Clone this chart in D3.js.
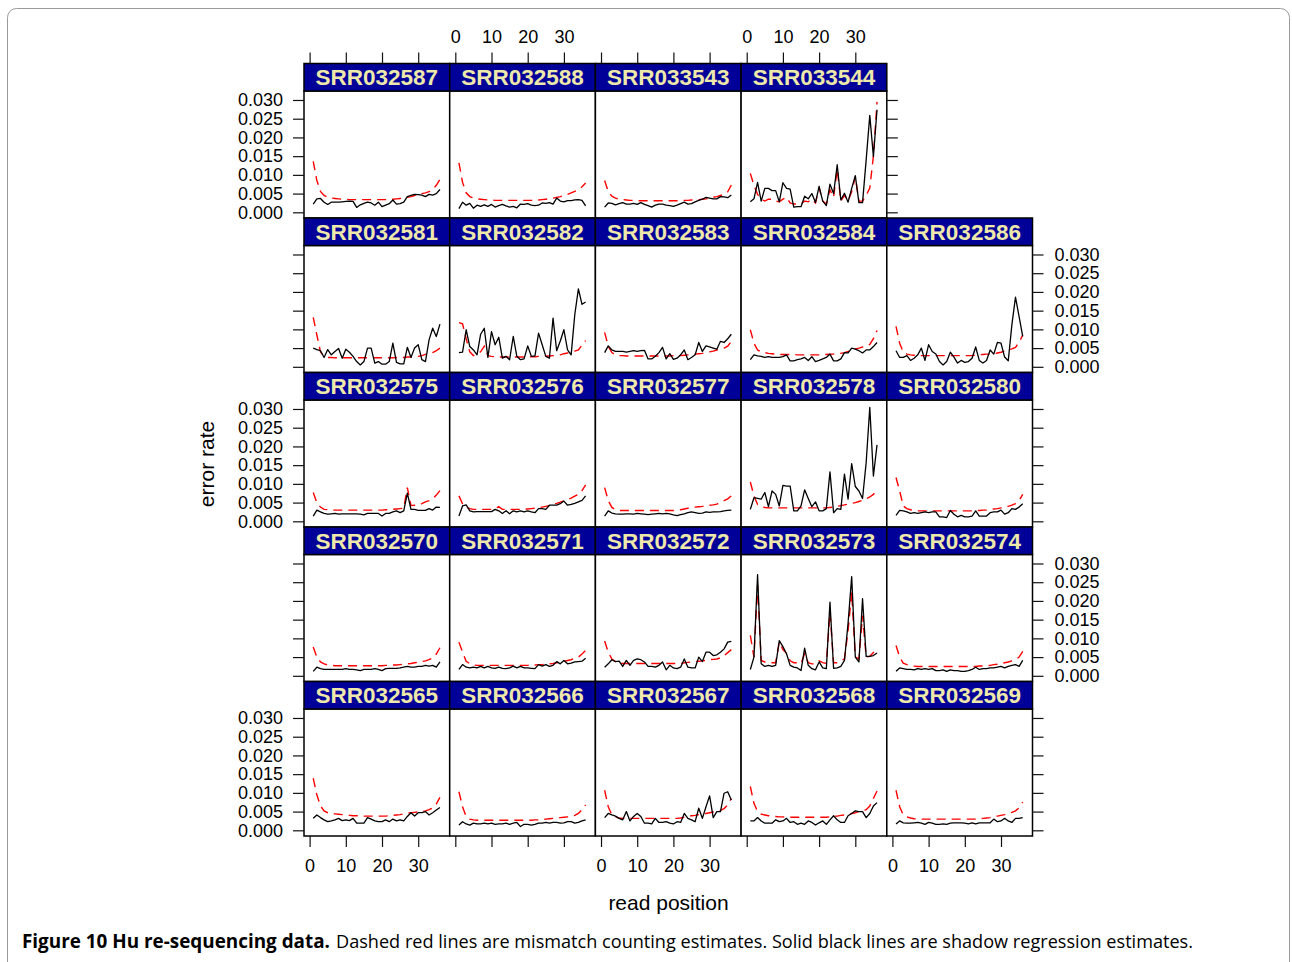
<!DOCTYPE html>
<html><head><meta charset="utf-8">
<script src="https://cdn.jsdelivr.net/npm/d3@7"></script>
<style>
body{margin:0;background:#fff;}
svg text{font-family:"Liberation Sans",Arial,Helvetica,sans-serif;}
</style></head>
<body><svg id="chart" width="1292" height="962"></svg>
<script>
// ---------------- data ----------------
const readPositions = [1,2,3,4,5,6,7,8,9,10,11,12,13,14,15,16,17,18,19,20,21,22,23,24,25,26,27,28,29,30,31,32,33,34,35,36];
const xTicks = [0,10,20,30];
const yTicks = [0,0.005,0.010,0.015,0.020,0.025,0.030];

// panel layout (top row first)
const layoutRows = [
  ["SRR032587","SRR032588","SRR033543","SRR033544"],
  ["SRR032581","SRR032582","SRR032583","SRR032584","SRR032586"],
  ["SRR032575","SRR032576","SRR032577","SRR032578","SRR032580"],
  ["SRR032570","SRR032571","SRR032572","SRR032573","SRR032574"],
  ["SRR032565","SRR032566","SRR032567","SRR032568","SRR032569"]
];

// shadow regression estimates (solid black) and mismatch counting estimates (dashed red)
const S587=[0.0022,0.0036,0.0037,0.0027,0.0021,0.0027,0.0027,0.0027,0.0028,0.0029,0.0030,0.0029,0.0013,0.0020,0.0024,0.0027,0.0025,0.0019,0.0027,0.0015,0.0019,0.0023,0.0033,0.0022,0.0023,0.0027,0.0042,0.0045,0.0048,0.0047,0.0046,0.0042,0.0048,0.0046,0.0050,0.0061];
const M587=[0.0136,0.0085,0.0056,0.0045,0.0040,0.0038,0.0037,0.0036,0.0035,0.0035,0.0034,0.0034,0.0034,0.0034,0.0034,0.0034,0.0034,0.0034,0.0034,0.0034,0.0034,0.0035,0.0035,0.0036,0.0037,0.0038,0.0040,0.0042,0.0045,0.0048,0.0050,0.0052,0.0055,0.0062,0.0072,0.0088];
const S588=[0.0010,0.0027,0.0019,0.0024,0.0011,0.0019,0.0016,0.0020,0.0016,0.0021,0.0014,0.0018,0.0021,0.0017,0.0014,0.0016,0.0012,0.0022,0.0021,0.0023,0.0019,0.0018,0.0019,0.0025,0.0024,0.0026,0.0022,0.0038,0.0030,0.0028,0.0031,0.0031,0.0033,0.0034,0.0032,0.0017];
const M588=[0.0132,0.0080,0.0052,0.0042,0.0038,0.0036,0.0035,0.0034,0.0033,0.0033,0.0032,0.0032,0.0032,0.0032,0.0032,0.0032,0.0032,0.0032,0.0032,0.0032,0.0032,0.0033,0.0033,0.0034,0.0035,0.0036,0.0038,0.0040,0.0042,0.0045,0.0048,0.0052,0.0056,0.0060,0.0068,0.0078];
const S3543=[0.0014,0.0025,0.0024,0.0020,0.0023,0.0026,0.0022,0.0022,0.0024,0.0021,0.0026,0.0021,0.0018,0.0014,0.0019,0.0022,0.0022,0.0019,0.0018,0.0016,0.0019,0.0023,0.0027,0.0022,0.0023,0.0028,0.0032,0.0035,0.0040,0.0038,0.0036,0.0036,0.0042,0.0041,0.0039,0.0046];
const M3543=[0.0085,0.0055,0.0043,0.0038,0.0035,0.0034,0.0033,0.0032,0.0032,0.0031,0.0031,0.0031,0.0031,0.0031,0.0031,0.0031,0.0031,0.0031,0.0031,0.0031,0.0031,0.0031,0.0032,0.0032,0.0033,0.0034,0.0034,0.0035,0.0036,0.0038,0.0040,0.0042,0.0045,0.0048,0.0055,0.0073];
const S3544=[0.0028,0.0036,0.0080,0.0030,0.0064,0.0064,0.0058,0.0058,0.0028,0.0079,0.0064,0.0062,0.0014,0.0015,0.0015,0.0043,0.0036,0.0050,0.0026,0.0069,0.0030,0.0018,0.0075,0.0050,0.0127,0.0033,0.0051,0.0027,0.0064,0.0098,0.0026,0.0026,0.0140,0.0259,0.0149,0.0274];
const M3544=[0.0104,0.0072,0.0048,0.0035,0.0030,0.0035,0.0035,0.0030,0.0028,0.0035,0.0040,0.0025,0.0022,0.0022,0.0022,0.0030,0.0028,0.0035,0.0025,0.0065,0.0030,0.0022,0.0060,0.0040,0.0115,0.0030,0.0045,0.0030,0.0055,0.0095,0.0030,0.0030,0.0045,0.0065,0.0150,0.0295];

const S581=[0.0050,0.0046,0.0043,0.0025,0.0046,0.0032,0.0041,0.0049,0.0023,0.0047,0.0039,0.0028,0.0014,0.0005,0.0014,0.0050,0.0050,0.0010,0.0014,0.0007,0.0007,0.0014,0.0063,0.0012,0.0008,0.0008,0.0052,0.0025,0.0050,0.0059,0.0019,0.0014,0.0072,0.0103,0.0081,0.0114];
const M581=[0.0132,0.0085,0.0040,0.0028,0.0025,0.0025,0.0024,0.0024,0.0024,0.0024,0.0024,0.0024,0.0024,0.0024,0.0024,0.0024,0.0024,0.0024,0.0024,0.0024,0.0024,0.0024,0.0024,0.0025,0.0025,0.0025,0.0026,0.0026,0.0027,0.0028,0.0030,0.0033,0.0036,0.0038,0.0043,0.0050];
const S582=[0.0038,0.0039,0.0099,0.0054,0.0045,0.0032,0.0087,0.0103,0.0025,0.0094,0.0059,0.0079,0.0023,0.0028,0.0019,0.0081,0.0028,0.0019,0.0021,0.0056,0.0028,0.0029,0.0090,0.0059,0.0028,0.0023,0.0130,0.0043,0.0069,0.0099,0.0045,0.0032,0.0139,0.0208,0.0167,0.0173];
const M582=[0.0118,0.0115,0.0075,0.0040,0.0030,0.0035,0.0040,0.0055,0.0030,0.0028,0.0027,0.0026,0.0026,0.0026,0.0026,0.0026,0.0026,0.0026,0.0026,0.0026,0.0027,0.0027,0.0028,0.0028,0.0029,0.0029,0.0030,0.0030,0.0032,0.0035,0.0037,0.0040,0.0042,0.0045,0.0058,0.0070];
const S583=[0.0038,0.0056,0.0045,0.0041,0.0041,0.0041,0.0039,0.0041,0.0043,0.0041,0.0043,0.0044,0.0021,0.0021,0.0028,0.0038,0.0052,0.0021,0.0035,0.0020,0.0023,0.0032,0.0045,0.0019,0.0025,0.0032,0.0065,0.0041,0.0056,0.0053,0.0050,0.0047,0.0068,0.0065,0.0075,0.0087];
const M583=[0.0092,0.0055,0.0038,0.0032,0.0030,0.0030,0.0029,0.0029,0.0029,0.0029,0.0029,0.0029,0.0029,0.0029,0.0029,0.0029,0.0029,0.0029,0.0029,0.0030,0.0030,0.0030,0.0031,0.0032,0.0033,0.0034,0.0035,0.0036,0.0038,0.0040,0.0042,0.0045,0.0048,0.0050,0.0055,0.0068];
const S584=[0.0019,0.0032,0.0029,0.0028,0.0025,0.0027,0.0025,0.0025,0.0025,0.0027,0.0032,0.0016,0.0016,0.0019,0.0021,0.0025,0.0017,0.0027,0.0014,0.0017,0.0021,0.0025,0.0034,0.0016,0.0016,0.0021,0.0038,0.0037,0.0050,0.0047,0.0043,0.0037,0.0045,0.0045,0.0054,0.0065];
const M584=[0.0099,0.0063,0.0045,0.0040,0.0038,0.0036,0.0035,0.0034,0.0033,0.0033,0.0033,0.0033,0.0033,0.0032,0.0032,0.0032,0.0032,0.0032,0.0032,0.0032,0.0033,0.0033,0.0034,0.0034,0.0035,0.0036,0.0038,0.0041,0.0045,0.0048,0.0050,0.0053,0.0055,0.0060,0.0075,0.0097];
const S586=[0.0043,0.0025,0.0025,0.0030,0.0017,0.0023,0.0032,0.0050,0.0017,0.0059,0.0041,0.0034,0.0014,0.0005,0.0014,0.0039,0.0026,0.0010,0.0017,0.0012,0.0014,0.0023,0.0053,0.0017,0.0010,0.0017,0.0045,0.0034,0.0065,0.0063,0.0026,0.0016,0.0112,0.0186,0.0134,0.0081];
const M586=[0.0108,0.0063,0.0039,0.0034,0.0032,0.0031,0.0030,0.0030,0.0030,0.0030,0.0030,0.0030,0.0030,0.0030,0.0030,0.0030,0.0030,0.0030,0.0030,0.0030,0.0030,0.0030,0.0031,0.0032,0.0033,0.0034,0.0034,0.0035,0.0037,0.0039,0.0042,0.0045,0.0048,0.0052,0.0065,0.0085];

const S575=[0.0014,0.0030,0.0025,0.0021,0.0019,0.0020,0.0021,0.0019,0.0020,0.0020,0.0020,0.0020,0.0020,0.0019,0.0017,0.0021,0.0021,0.0021,0.0021,0.0014,0.0021,0.0021,0.0025,0.0028,0.0023,0.0028,0.0075,0.0032,0.0032,0.0029,0.0029,0.0029,0.0034,0.0030,0.0038,0.0037];
const M575=[0.0077,0.0050,0.0038,0.0032,0.0031,0.0030,0.0030,0.0030,0.0030,0.0030,0.0030,0.0030,0.0030,0.0030,0.0030,0.0030,0.0030,0.0030,0.0030,0.0030,0.0031,0.0031,0.0032,0.0033,0.0034,0.0035,0.0090,0.0042,0.0043,0.0044,0.0047,0.0052,0.0055,0.0060,0.0070,0.0082];
const S576=[0.0014,0.0041,0.0044,0.0028,0.0025,0.0026,0.0026,0.0026,0.0026,0.0026,0.0032,0.0028,0.0021,0.0028,0.0020,0.0028,0.0025,0.0028,0.0025,0.0028,0.0025,0.0023,0.0034,0.0034,0.0032,0.0043,0.0043,0.0043,0.0047,0.0054,0.0043,0.0045,0.0048,0.0052,0.0056,0.0068];
const M576=[0.0068,0.0047,0.0038,0.0034,0.0032,0.0032,0.0032,0.0032,0.0032,0.0032,0.0033,0.0039,0.0032,0.0032,0.0032,0.0032,0.0032,0.0032,0.0033,0.0033,0.0034,0.0035,0.0036,0.0038,0.0040,0.0042,0.0045,0.0048,0.0051,0.0055,0.0058,0.0062,0.0067,0.0072,0.0082,0.0097];
const S577=[0.0014,0.0028,0.0022,0.0020,0.0019,0.0019,0.0020,0.0020,0.0019,0.0021,0.0020,0.0019,0.0018,0.0019,0.0020,0.0021,0.0020,0.0021,0.0020,0.0017,0.0015,0.0018,0.0020,0.0023,0.0025,0.0023,0.0021,0.0022,0.0025,0.0024,0.0025,0.0025,0.0026,0.0028,0.0029,0.0030];
const M577=[0.0090,0.0055,0.0037,0.0031,0.0029,0.0029,0.0029,0.0029,0.0029,0.0029,0.0029,0.0029,0.0029,0.0029,0.0029,0.0029,0.0029,0.0029,0.0029,0.0029,0.0030,0.0031,0.0033,0.0035,0.0037,0.0038,0.0039,0.0040,0.0042,0.0043,0.0044,0.0046,0.0050,0.0055,0.0060,0.0068];
const S578=[0.0032,0.0063,0.0061,0.0059,0.0077,0.0039,0.0081,0.0072,0.0041,0.0096,0.0094,0.0094,0.0028,0.0028,0.0041,0.0084,0.0061,0.0039,0.0052,0.0028,0.0028,0.0034,0.0132,0.0023,0.0034,0.0032,0.0126,0.0059,0.0154,0.0093,0.0081,0.0061,0.0157,0.0304,0.0121,0.0204];
const M578=[0.0105,0.0068,0.0045,0.0040,0.0037,0.0036,0.0036,0.0036,0.0036,0.0036,0.0036,0.0036,0.0036,0.0036,0.0036,0.0036,0.0036,0.0036,0.0036,0.0036,0.0036,0.0036,0.0037,0.0038,0.0040,0.0042,0.0044,0.0046,0.0048,0.0050,0.0053,0.0056,0.0060,0.0065,0.0072,0.0082];
const S580=[0.0016,0.0029,0.0028,0.0025,0.0021,0.0023,0.0021,0.0023,0.0025,0.0023,0.0025,0.0025,0.0012,0.0012,0.0010,0.0029,0.0019,0.0012,0.0016,0.0012,0.0012,0.0014,0.0028,0.0014,0.0014,0.0014,0.0023,0.0025,0.0025,0.0030,0.0019,0.0023,0.0034,0.0032,0.0038,0.0047];
const M580=[0.0117,0.0081,0.0041,0.0034,0.0031,0.0029,0.0028,0.0028,0.0028,0.0028,0.0028,0.0028,0.0028,0.0028,0.0028,0.0028,0.0028,0.0028,0.0028,0.0028,0.0028,0.0028,0.0029,0.0029,0.0030,0.0030,0.0031,0.0033,0.0034,0.0036,0.0038,0.0040,0.0043,0.0047,0.0055,0.0072];

const S570=[0.0012,0.0023,0.0019,0.0017,0.0017,0.0017,0.0017,0.0017,0.0017,0.0019,0.0017,0.0017,0.0016,0.0014,0.0017,0.0017,0.0017,0.0019,0.0017,0.0014,0.0019,0.0020,0.0020,0.0020,0.0021,0.0023,0.0025,0.0023,0.0023,0.0025,0.0025,0.0028,0.0026,0.0028,0.0023,0.0037];
const M570=[0.0077,0.0050,0.0037,0.0032,0.0029,0.0028,0.0027,0.0027,0.0027,0.0027,0.0027,0.0027,0.0027,0.0027,0.0027,0.0027,0.0027,0.0027,0.0027,0.0027,0.0028,0.0028,0.0029,0.0029,0.0030,0.0031,0.0032,0.0033,0.0035,0.0036,0.0038,0.0040,0.0043,0.0048,0.0058,0.0075];
const S571=[0.0017,0.0030,0.0023,0.0021,0.0023,0.0021,0.0025,0.0021,0.0025,0.0021,0.0020,0.0023,0.0020,0.0019,0.0021,0.0026,0.0021,0.0025,0.0021,0.0021,0.0020,0.0019,0.0030,0.0026,0.0030,0.0025,0.0028,0.0038,0.0032,0.0041,0.0032,0.0034,0.0037,0.0038,0.0039,0.0047];
const M571=[0.0090,0.0063,0.0039,0.0032,0.0029,0.0028,0.0028,0.0028,0.0028,0.0028,0.0028,0.0028,0.0028,0.0028,0.0028,0.0028,0.0028,0.0028,0.0028,0.0028,0.0029,0.0029,0.0030,0.0030,0.0031,0.0032,0.0033,0.0035,0.0037,0.0039,0.0041,0.0043,0.0047,0.0050,0.0058,0.0068];
const S572=[0.0023,0.0032,0.0043,0.0038,0.0039,0.0025,0.0041,0.0028,0.0041,0.0045,0.0043,0.0037,0.0025,0.0025,0.0023,0.0028,0.0037,0.0016,0.0028,0.0021,0.0019,0.0023,0.0045,0.0023,0.0021,0.0021,0.0050,0.0038,0.0063,0.0063,0.0054,0.0056,0.0063,0.0072,0.0090,0.0092];
const M572=[0.0093,0.0063,0.0045,0.0038,0.0034,0.0033,0.0033,0.0033,0.0033,0.0033,0.0033,0.0033,0.0033,0.0033,0.0033,0.0033,0.0033,0.0033,0.0033,0.0033,0.0033,0.0033,0.0035,0.0036,0.0037,0.0038,0.0039,0.0040,0.0041,0.0043,0.0044,0.0045,0.0048,0.0054,0.0062,0.0070];
const S573=[0.0017,0.0050,0.0270,0.0032,0.0025,0.0028,0.0025,0.0028,0.0094,0.0078,0.0059,0.0028,0.0023,0.0021,0.0014,0.0074,0.0028,0.0019,0.0016,0.0037,0.0021,0.0019,0.0197,0.0020,0.0021,0.0025,0.0041,0.0140,0.0265,0.0050,0.0037,0.0206,0.0052,0.0052,0.0054,0.0061];
const M573=[0.0108,0.0050,0.0242,0.0041,0.0037,0.0035,0.0035,0.0035,0.0090,0.0070,0.0060,0.0040,0.0035,0.0035,0.0033,0.0059,0.0035,0.0032,0.0032,0.0040,0.0035,0.0033,0.0170,0.0035,0.0035,0.0040,0.0045,0.0120,0.0224,0.0050,0.0045,0.0161,0.0050,0.0052,0.0062,0.0078];
const S574=[0.0012,0.0021,0.0019,0.0017,0.0017,0.0016,0.0019,0.0017,0.0019,0.0017,0.0019,0.0014,0.0014,0.0016,0.0012,0.0016,0.0014,0.0014,0.0012,0.0012,0.0014,0.0017,0.0023,0.0017,0.0019,0.0019,0.0021,0.0021,0.0023,0.0025,0.0021,0.0025,0.0028,0.0030,0.0025,0.0041];
const M574=[0.0081,0.0050,0.0034,0.0030,0.0027,0.0026,0.0025,0.0025,0.0025,0.0025,0.0025,0.0025,0.0025,0.0025,0.0025,0.0025,0.0025,0.0025,0.0025,0.0025,0.0025,0.0025,0.0025,0.0026,0.0026,0.0027,0.0028,0.0030,0.0031,0.0033,0.0035,0.0037,0.0040,0.0043,0.0050,0.0065];

const S565=[0.0032,0.0041,0.0034,0.0028,0.0023,0.0025,0.0028,0.0032,0.0026,0.0028,0.0026,0.0032,0.0019,0.0019,0.0019,0.0034,0.0030,0.0025,0.0023,0.0023,0.0028,0.0023,0.0030,0.0025,0.0028,0.0025,0.0037,0.0047,0.0038,0.0047,0.0047,0.0050,0.0041,0.0047,0.0054,0.0061];
const M565=[0.0139,0.0095,0.0065,0.0052,0.0047,0.0045,0.0044,0.0043,0.0042,0.0041,0.0040,0.0039,0.0039,0.0038,0.0038,0.0038,0.0038,0.0038,0.0038,0.0038,0.0038,0.0039,0.0040,0.0041,0.0042,0.0044,0.0046,0.0047,0.0048,0.0049,0.0050,0.0052,0.0055,0.0060,0.0070,0.0088];
const S566=[0.0014,0.0023,0.0017,0.0014,0.0019,0.0017,0.0017,0.0019,0.0017,0.0019,0.0016,0.0017,0.0017,0.0019,0.0016,0.0019,0.0021,0.0010,0.0016,0.0016,0.0014,0.0016,0.0019,0.0019,0.0021,0.0019,0.0021,0.0021,0.0019,0.0020,0.0023,0.0023,0.0019,0.0021,0.0025,0.0028];
const M566=[0.0103,0.0063,0.0036,0.0030,0.0028,0.0027,0.0027,0.0027,0.0027,0.0027,0.0027,0.0027,0.0027,0.0027,0.0027,0.0027,0.0027,0.0027,0.0027,0.0027,0.0027,0.0028,0.0028,0.0029,0.0030,0.0031,0.0032,0.0033,0.0034,0.0035,0.0036,0.0037,0.0040,0.0045,0.0055,0.0068];
const S567=[0.0034,0.0045,0.0041,0.0038,0.0032,0.0028,0.0050,0.0025,0.0037,0.0045,0.0037,0.0019,0.0019,0.0017,0.0032,0.0021,0.0021,0.0023,0.0019,0.0017,0.0023,0.0021,0.0045,0.0032,0.0028,0.0023,0.0059,0.0032,0.0063,0.0092,0.0034,0.0050,0.0050,0.0099,0.0103,0.0081];
const M567=[0.0107,0.0063,0.0041,0.0036,0.0033,0.0032,0.0032,0.0032,0.0032,0.0032,0.0032,0.0032,0.0032,0.0032,0.0032,0.0032,0.0032,0.0032,0.0032,0.0032,0.0032,0.0033,0.0035,0.0037,0.0039,0.0040,0.0042,0.0044,0.0045,0.0047,0.0049,0.0050,0.0053,0.0058,0.0068,0.0085];
const S568=[0.0025,0.0025,0.0034,0.0025,0.0019,0.0019,0.0019,0.0028,0.0023,0.0025,0.0032,0.0021,0.0023,0.0016,0.0019,0.0016,0.0025,0.0021,0.0014,0.0020,0.0025,0.0016,0.0028,0.0039,0.0028,0.0021,0.0021,0.0039,0.0045,0.0052,0.0050,0.0050,0.0034,0.0045,0.0065,0.0074];
const M568=[0.0117,0.0072,0.0050,0.0043,0.0041,0.0039,0.0038,0.0037,0.0036,0.0036,0.0035,0.0035,0.0035,0.0035,0.0035,0.0035,0.0035,0.0035,0.0035,0.0035,0.0035,0.0035,0.0036,0.0037,0.0038,0.0040,0.0041,0.0043,0.0045,0.0047,0.0050,0.0052,0.0055,0.0065,0.0085,0.0105];
const S569=[0.0017,0.0025,0.0020,0.0019,0.0019,0.0020,0.0021,0.0019,0.0016,0.0021,0.0019,0.0016,0.0016,0.0017,0.0016,0.0019,0.0020,0.0020,0.0020,0.0019,0.0017,0.0020,0.0017,0.0020,0.0020,0.0020,0.0020,0.0030,0.0023,0.0025,0.0032,0.0025,0.0021,0.0032,0.0032,0.0034];
const M569=[0.0107,0.0063,0.0041,0.0036,0.0033,0.0031,0.0030,0.0030,0.0030,0.0030,0.0030,0.0030,0.0030,0.0030,0.0030,0.0030,0.0030,0.0030,0.0030,0.0030,0.0030,0.0030,0.0030,0.0031,0.0032,0.0033,0.0034,0.0036,0.0038,0.0040,0.0042,0.0045,0.0048,0.0052,0.0060,0.0075];

const seriesByPanel = {
  SRR032587:[S587,M587], SRR032588:[S588,M588], SRR033543:[S3543,M3543], SRR033544:[S3544,M3544],
  SRR032581:[S581,M581], SRR032582:[S582,M582], SRR032583:[S583,M583], SRR032584:[S584,M584], SRR032586:[S586,M586],
  SRR032575:[S575,M575], SRR032576:[S576,M576], SRR032577:[S577,M577], SRR032578:[S578,M578], SRR032580:[S580,M580],
  SRR032570:[S570,M570], SRR032571:[S571,M571], SRR032572:[S572,M572], SRR032573:[S573,M573], SRR032574:[S574,M574],
  SRR032565:[S565,M565], SRR032566:[S566,M566], SRR032567:[S567,M567], SRR032568:[S568,M568], SRR032569:[S569,M569]
};

// ---------------- layout ----------------
const svg = d3.select("#chart");
svg.append("rect").attr("x",0).attr("y",0).attr("width",1292).attr("height",962).attr("fill","#fff");
svg.append("rect").attr("x",7.5).attr("y",8.5).attr("width",1282).attr("height",990).attr("rx",9)
   .attr("fill","none").attr("stroke","#9a9a9a").attr("stroke-width",1);

const colLeft0 = 304, colW = 145.7;
const rowTop0 = 63.5, rowPitch = 154.5, stripH = 27.5, panelH = 127;
const colX = c => colLeft0 + c*colW;
const stripY = r => rowTop0 + r*rowPitch;
const panelTop = r => stripY(r) + stripH;
const panelBot = r => panelTop(r) + panelH;

const xDomain = [-1.55, 38.7];
const yDomain = [-0.00152, 0.0324];
const fmtY = d3.format(".3f");
const tickFont = "18px";

function styleAxis(g){
  g.select(".domain").remove();
  g.selectAll(".tick line").attr("stroke","#111").attr("stroke-width",1.2);
  g.selectAll(".tick text").attr("fill","#000").style("font-size",tickFont)
   .style("font-family","'Liberation Sans',Arial,Helvetica,sans-serif");
}

const nRows = layoutRows.length;
layoutRows.forEach((row, r) => {
  row.forEach((name, c) => {
    const x = d3.scaleLinear().domain(xDomain).range([colX(c), colX(c)+colW]);
    const y = d3.scaleLinear().domain(yDomain).range([panelBot(r), panelTop(r)]);
    const g = svg.append("g");
    g.append("rect").attr("x",colX(c)).attr("y",panelTop(r)).attr("width",colW).attr("height",panelH)
      .attr("fill","#fff").attr("stroke","#000").attr("stroke-width",1.5);
    const [shadow, mismatch] = seriesByPanel[name];
    const line = d3.line().x((d,i)=>x(readPositions[i])).y(d=>y(d));
    g.append("path").datum(mismatch).attr("d",line).attr("fill","none")
      .attr("stroke","#ff0000").attr("stroke-width",1.4).attr("stroke-dasharray","9,6");
    g.append("path").datum(shadow).attr("d",line).attr("fill","none")
      .attr("stroke","#000").attr("stroke-width",1.3).attr("stroke-linejoin","round");
    g.append("rect").attr("x",colX(c)).attr("y",stripY(r)).attr("width",colW).attr("height",stripH)
      .attr("fill","#000099").attr("stroke","#000").attr("stroke-width",1.5);
    g.append("text").attr("x",colX(c)+colW/2).attr("y",stripY(r)+stripH/2+8)
      .attr("text-anchor","middle").attr("fill","#EEE8AA")
      .style("font-size","22.5px").style("font-weight","bold").text(name);

    if (r === 0) {
      const ax = svg.append("g").attr("transform",`translate(0,${stripY(0)})`)
        .call(d3.axisTop(x).tickValues(xTicks).tickSize(11).tickPadding(10)
          .tickFormat(c % 2 === 1 ? d3.format("d") : () => ""));
      styleAxis(ax);
    }
    if (r === nRows-1) {
      const ax = svg.append("g").attr("transform",`translate(0,${panelBot(r)})`)
        .call(d3.axisBottom(x).tickValues(xTicks).tickSize(11).tickPadding(12)
          .tickFormat(c % 2 === 0 ? d3.format("d") : () => ""));
      styleAxis(ax);
    }
    if (c === 0) {
      const ax = svg.append("g").attr("transform",`translate(${colX(0)},0)`)
        .call(d3.axisLeft(y).tickValues(yTicks).tickSize(11).tickPadding(10)
          .tickFormat(r % 2 === 0 ? fmtY : () => ""));
      styleAxis(ax);
    }
    if (c === row.length-1) {
      const ax = svg.append("g").attr("transform",`translate(${colX(c)+colW},0)`)
        .call(d3.axisRight(y).tickValues(yTicks).tickSize(11).tickPadding(11)
          .tickFormat(r % 2 === 1 ? fmtY : () => ""));
      styleAxis(ax);
    }
  });
});

// axis titles
svg.append("text").attr("transform","translate(214,464) rotate(-90)").attr("text-anchor","middle")
  .style("font-size","21px").text("error rate");
svg.append("text").attr("x",668.5).attr("y",910).attr("text-anchor","middle")
  .style("font-size","21px").text("read position");

// caption
const capFont = "'Open Sans','Noto Sans',sans-serif";
svg.append("text").attr("x",22).attr("y",948).style("font-family",capFont).style("font-size","19px")
  .style("font-weight","bold").attr("textLength",308).attr("lengthAdjust","spacingAndGlyphs")
  .text("Figure 10 Hu re-sequencing data.");
svg.append("text").attr("x",336).attr("y",948).style("font-family",capFont).style("font-size","19px")
  .attr("textLength",857).attr("lengthAdjust","spacingAndGlyphs")
  .text("Dashed red lines are mismatch counting estimates. Solid black lines are shadow regression estimates.");
</script></body></html>
